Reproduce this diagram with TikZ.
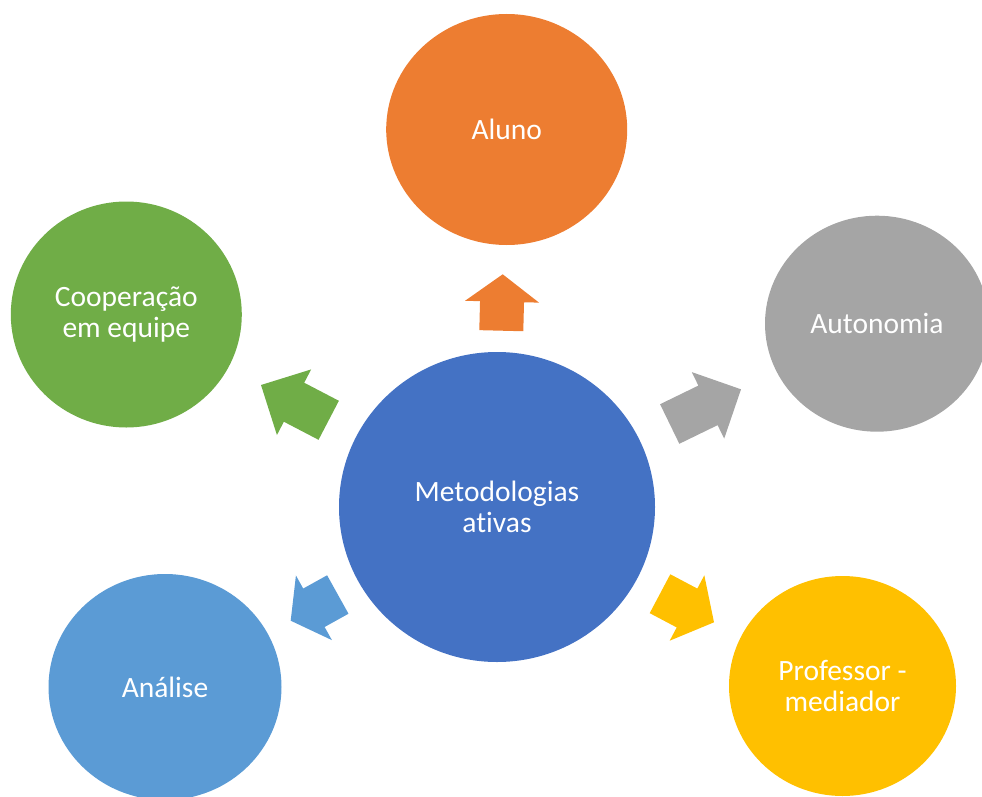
\documentclass[tikz,border=0pt]{standalone}
\usepackage{fontspec}
\setmainfont{Carlito}[Ligatures=NoCommon]
\usetikzlibrary{shapes.geometric,calc}
\definecolor{cblue}{HTML}{4472C4}
\definecolor{corange}{HTML}{ED7D31}
\definecolor{cgray}{HTML}{A5A5A5}
\definecolor{cyellow}{HTML}{FFC000}
\definecolor{clblue}{HTML}{5B9BD5}
\definecolor{cgreen}{HTML}{70AD47}
\tikzset{
  bubble/.style={ellipse, inner sep=0pt, text=white, align=center,
    font=\fontsize{29.5}{31.5}\selectfont},
}
\newcommand{\blockarrow}[4]{%
  \path coordinate (hb) at ($(#2)!#4!(#3)$);
  \fill[#1] ($(#2)!22pt!-90:(#3)$) -- ($(hb)!22pt!-90:(#3)$) -- ($(hb)!37pt!-90:(#3)$)
    -- (#3) -- ($(hb)!37pt!90:(#3)$) -- ($(hb)!22pt!90:(#3)$) -- ($(#2)!22pt!90:(#3)$) -- cycle;
}
\begin{document}
\begin{tikzpicture}[x=1pt,y=-1pt]
\useasboundingbox (0,0) rectangle (982,797);
\clip (0,0) rectangle (982,797);
\node[bubble, fill=cblue, minimum width=316pt, minimum height=310pt] (c) at (497,507) {Metodologias\\ativas};
\node[bubble, fill=corange, minimum width=241pt, minimum height=231pt] (aluno) at (506.7,129.5) {Aluno};
\node[bubble, fill=cgray, minimum width=224pt, minimum height=216pt] (auto) at (877,323.7) {Autonomia};
\node[bubble, fill=cgreen, minimum width=231pt, minimum height=226pt] (coop) at (126.3,314.5) {Cooperação\\em equipe};
\node[bubble, fill=clblue, minimum width=233pt, minimum height=226pt] (anal) at (165,687) {Análise};
\node[bubble, fill=cyellow, minimum width=227pt, minimum height=220pt] (prof) at (842.5,686) {Professor -\\mediador};
% arrow anchors
\coordinate (oa) at (501.3,330.7); \coordinate (ob) at (502.7,274.3);
\coordinate (ga) at (669.7,424);   \coordinate (gb) at (741,389.3);
\coordinate (va) at (328.7,420.3); \coordinate (vb) at (261,385);
\coordinate (la) at (337.8,594.5); \coordinate (lb) at (290.7,620.7);
\coordinate (ya) at (660,593.7);   \coordinate (yb) at (714,622.3);
\blockarrow{corange}{oa}{ob}{0.514}
\blockarrow{cgray}{ga}{gb}{0.537}
\blockarrow{cgreen}{va}{vb}{0.512}
\blockarrow{clblue}{la}{lb}{0.507}
\blockarrow{cyellow}{ya}{yb}{0.5}
\end{tikzpicture}
\end{document}
